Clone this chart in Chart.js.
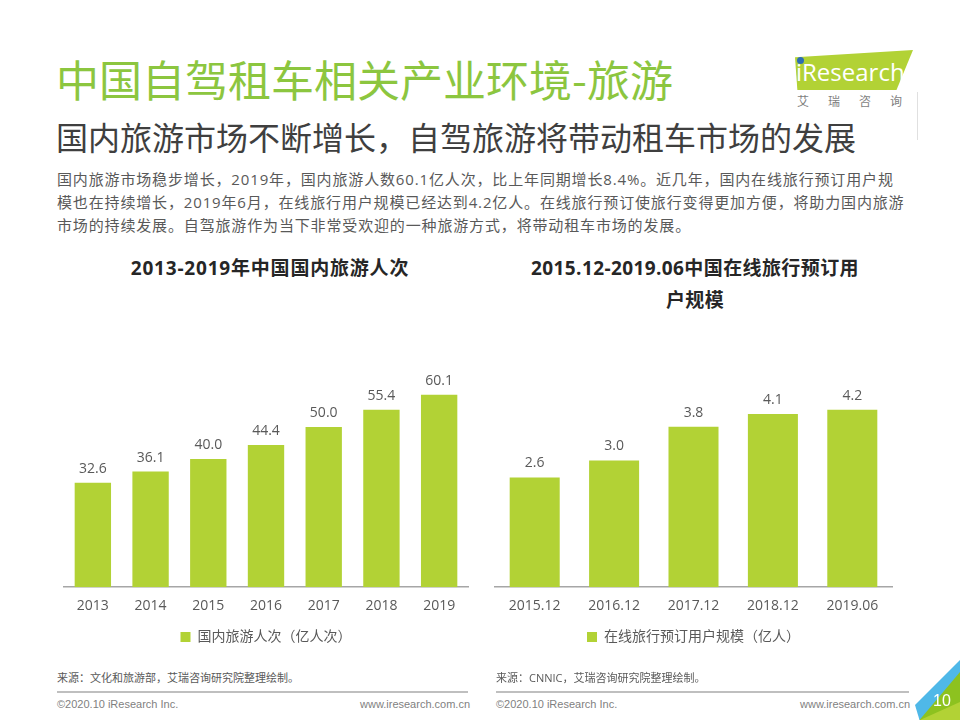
<!DOCTYPE html>
<html><head><meta charset="utf-8">
<script src="https://cdn.jsdelivr.net/npm/chart.js@4.4.0/dist/chart.umd.min.js"></script>
<style>
html,body{margin:0;padding:0;background:#fff;}
body{width:960px;height:720px;position:relative;overflow:hidden;font-family:"Open Sans","Noto Sans CJK SC",sans-serif;}
.abs{position:absolute;white-space:nowrap;}
#title{left:56px;top:51px;font-size:43px;color:#8cc63f;font-family:"Noto Sans CJK SC",sans-serif;line-height:54px;}
#sub{left:56px;top:114px;font-size:32px;color:#3f3f3f;font-family:"Noto Sans CJK SC",sans-serif;line-height:44px;}
#para{left:57px;top:168px;font-size:15px;color:#595959;line-height:23px;letter-spacing:0.85px;}
.ct{font-weight:bold;font-size:19px;letter-spacing:0.8px;color:#262626;text-align:center;line-height:32px;font-family:"Open Sans","Noto Sans CJK SC",sans-serif;}
.src{font-size:11px;color:#595959;top:669px;}
.foot{font-size:11px;color:#7f7f7f;top:698px;font-family:"Liberation Sans Narrow","Liberation Sans",sans-serif;}
.hl{position:absolute;height:2px;background:#bfbfbf;top:691px;}
canvas{position:absolute;}
</style></head><body>
<div id="title" class="abs">中国自驾租车相关产业环境-旅游</div>
<div id="sub" class="abs">国内旅游市场不断增长，自驾旅游将带动租车市场的发展</div>
<div id="para" class="abs">国内旅游市场稳步增长，2019年，国内旅游人数60.1亿人次，比上年同期增长8.4%。近几年，国内在线旅行预订用户规<br>模也在持续增长，2019年6月，在线旅行用户规模已经达到4.2亿人。在线旅行预订使旅行变得更加方便，将助力国内旅游<br>市场的持续发展。自驾旅游作为当下非常受欢迎的一种旅游方式，将带动租车市场的发展。</div>

<div class="abs ct" style="left:70px;width:400px;top:252px;">2013-2019年中国国内旅游人次</div>
<div class="abs ct" style="left:495px;width:400px;top:252px;letter-spacing:0.4px;">2015.12-2019.06中国在线旅行预订用<br>户规模</div>

<!-- logo -->
<div class="abs" style="left:795px;top:50px;width:118px;height:40px;background:#b2d235;clip-path:polygon(0 18%,100% 0,86% 100%,2% 100%);"></div>
<div class="abs" style="left:796px;top:52px;font-size:24px;color:#fff;font-family:'Open Sans',sans-serif;line-height:40px;">iResearch</div>
<div class="abs" style="left:797px;top:57px;width:7px;height:7px;border-radius:50%;background:#2e6db4;"></div>
<div class="abs" style="left:797px;top:92px;font-size:12px;color:#7f7f7f;letter-spacing:19px;font-family:'Noto Sans CJK SC',sans-serif;">艾瑞咨询</div>
<div class="abs" style="left:917px;top:92px;width:1px;height:48px;background:#e0e0e0;"></div>

<canvas id="c1" width="450" height="330" style="left:40px;top:334px;"></canvas>
<canvas id="c2" width="440" height="330" style="left:480px;top:334px;"></canvas>

<div class="abs src" style="left:57px;">来源：文化和旅游部，艾瑞咨询研究院整理绘制。</div>
<div class="abs src" style="left:496px;">来源：CNNIC，艾瑞咨询研究院整理绘制。</div>
<div class="hl" style="left:57px;width:411px;"></div>
<div class="hl" style="left:496px;width:413px;"></div>
<div class="abs foot" style="left:57px;">©2020.10 iResearch Inc.</div>
<div class="abs foot" style="left:360px;width:108px;text-align:right;">www.iresearch.com.cn</div>
<div class="abs foot" style="left:496px;">©2020.10 iResearch Inc.</div>
<div class="abs foot" style="left:800px;width:109px;text-align:right;">www.iresearch.com.cn</div>

<!-- corner -->
<div class="abs" style="left:915px;top:660px;width:45px;height:60px;background:#4fb8e8;clip-path:polygon(100% 0,100% 45%,40% 100%,10% 100%,0 75%);"></div>
<div class="abs" style="left:915px;top:660px;width:45px;height:60px;background:#8dc21f;clip-path:polygon(100% 20%,100% 100%,10% 100%);"></div>
<div class="abs" style="left:920px;top:680px;width:40px;height:40px;background:#b2d235;clip-path:polygon(100% 55%,100% 100%,0 100%);"></div>
<div class="abs" style="left:933px;top:692px;font-size:16px;color:#fff;font-family:'Liberation Sans',sans-serif;">10</div>

<script>
const years = ["2013","2014","2015","2016","2017","2018","2019"];
const tourists = [32.6,36.1,40.0,44.4,50.0,55.4,60.1];
const periods = ["2015.12","2016.12","2017.12","2018.12","2019.06"];
const onlineUsers = [2.6,3.0,3.8,4.1,4.2];
const label1 = "国内旅游人次（亿人次）";
const label2 = "在线旅行预订用户规模（亿人）";

const BAR = "#b2d235";
const TXT = "#595959";
const FONT = '"Open Sans","Noto Sans CJK SC",sans-serif';

const valueLabels = {
  id:'valueLabels',
  afterDatasetsDraw(chart){
    const ctx = chart.ctx;
    ctx.save();
    ctx.fillStyle = TXT;
    ctx.font = '14px ' + FONT;
    ctx.textAlign = 'center';
    ctx.textBaseline = 'bottom';
    const meta = chart.getDatasetMeta(0);
    meta.data.forEach((el,i)=>{
      const v = chart.data.datasets[0].data[i];
      ctx.fillText(v.toFixed(1), el.x, el.y - 7);
    });
    ctx.restore();
  }
};

function make(id, labels, data, label, max, pad){
  new Chart(document.getElementById(id), {
    type:'bar',
    data:{labels, datasets:[{label, data, backgroundColor:BAR, barPercentage:0.63, categoryPercentage:1.0}]},
    options:{
      responsive:false, animation:false,
      layout:{padding:pad},
      plugins:{
        legend:{position:'bottom', labels:{boxWidth:10, boxHeight:10, padding:6, color:TXT, font:{size:14, family:FONT}}},
        tooltip:{enabled:false}
      },
      scales:{
        x:{grid:{display:false, drawTicks:false}, border:{display:true, color:'#a6a6a6', width:1.5},
           ticks:{color:TXT, padding:10, font:{size:14, family:FONT}}},
        y:{display:false, min:0, max:max}
      }
    },
    plugins:[valueLabels]
  });
}
make('c1', years, tourists, label1, 70, {left:24, right:22, top:29, bottom:10});
make('c2', periods, onlineUsers, label2, 5, {left:15, right:28, top:42, bottom:10});
</script>
</body></html>
